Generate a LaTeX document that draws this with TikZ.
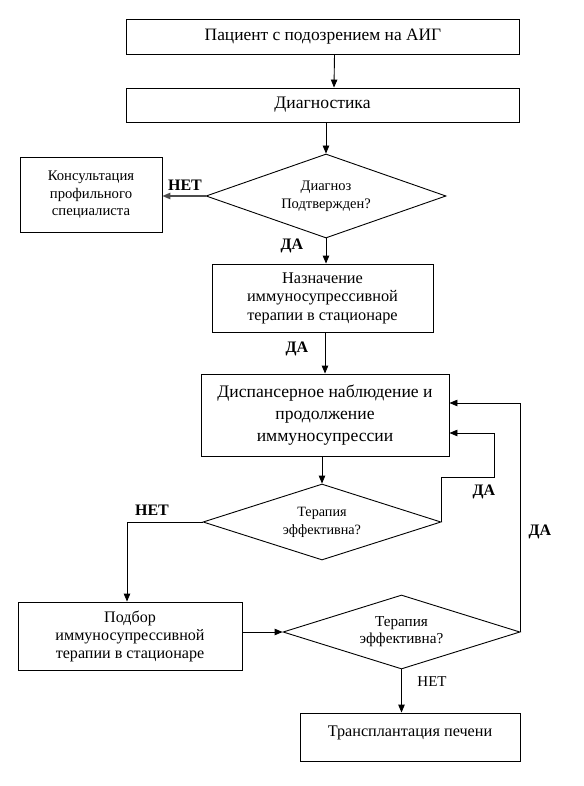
\documentclass[tikz,border=0pt]{standalone}
\usepackage{fontspec}
\setmainfont{Liberation Serif}
\usetikzlibrary{shapes.geometric,arrows.meta}
\begin{document}
\begin{tikzpicture}[x=1pt,y=-1pt,
  every path/.style={line width=0.9pt},
  box/.style={draw, rectangle, inner sep=2pt, align=center, font=\fontsize{16.3}{18.5}\selectfont},
  dia/.style={draw, diamond, inner sep=0pt, align=center, font=\fontsize{14.5}{18}\selectfont},
  arr/.style={-{Triangle[length=8pt,width=6.5pt]}},
  lab/.style={font=\fontsize{16}{18}\selectfont\bfseries, inner sep=0pt},
  labn/.style={font=\fontsize{15}{17}\selectfont, inner sep=0pt}]
\useasboundingbox (0,0) rectangle (583,786);
\fill[white] (0,0) rectangle (583,786);

\node[box, minimum width=393pt, minimum height=35pt, font=\fontsize{17.4}{20}\selectfont] (p) at (323,36.5) {Пациент с подозрением на АИГ};
\node[box, minimum width=393pt, minimum height=34pt, font=\fontsize{17.6}{20}\selectfont] (dg) at (322.5,105) {Диагностика};
\node[dia, aspect=2.86, minimum width=240pt, minimum height=84pt] (d1) at (326,196) {Диагноз\\Подтвержден?};
\node[box, minimum width=142pt, minimum height=75pt, font=\fontsize{14.7}{17.5}\selectfont] (c) at (91,195) {Консультация\\профильного\\специалиста};
\node[box, minimum width=221pt, minimum height=68pt] (b3) at (322.5,298) {Назначение\\иммуносупрессивной\\терапии в стационаре};
\node[box, minimum width=248pt, minimum height=82pt, font=\fontsize{17.6}{22}\selectfont] (b4) at (325,415) {Диспансерное наблюдение и\\продолжение\\иммуносупрессии};
\node[dia, aspect=3.13, minimum width=238pt, minimum height=76pt, font=\fontsize{14.2}{18}\selectfont] (d2) at (322,522) {Терапия\\эффективна?};
\node[box, minimum width=224pt, minimum height=68pt, font=\fontsize{16.1}{18}\selectfont] (b5) at (130,636) {Подбор\\иммуносупрессивной\\терапии в стационаре};
\node[dia, aspect=3.2, minimum width=237pt, minimum height=74pt, font=\fontsize{15.2}{17}\selectfont] (d3) at (401.5,632) {Терапия\\эффективна?};
\node[box, minimum width=220pt, minimum height=48pt, font=\fontsize{16.2}{18}\selectfont] (b6) at (410,737) {Трансплантация печени\\[-6pt]~};

\coordinate (l1) at (494,477);

\draw[arr] ([xshift=11.5pt]p.south) -- ([xshift=11.5pt]dg.north);
\draw[arr] (d1.north |- dg.south) -- (d1.north);
\draw[arr, line width=1.3pt, draw=black!70] (d1.west) -- (d1.west -| c.east);
\draw[arr] (d1.south) -- (d1.south |- b3.north);
\draw[arr] (b4.north |- b3.south) -- (b4.north);
\draw[arr] (b4.south -| d2.north) -- (d2.north);
\draw[arr] (d2.east) |- (l1) |- ([yshift=-18pt]b4.east);
\draw[arr] (d3.east) |- ([yshift=12pt]b4.east);
\draw[arr] (d2.west) -| ([xshift=-3pt]b5.north);
\draw[arr] (b5.east |- d3.west) -- (d3.west);
\draw[arr] (d3.south) -- (d3.south |- b6.north);

\node[lab] (n1) at (185,185) {НЕТ};
\node[lab] (y1) at (292,246) {ДА};
\node[lab] (y2) at (297,349) {ДА};
\node[lab] (y3) at (484,492) {ДА};
\node[lab] (n2) at (152,510) {НЕТ};
\node[lab] (y4) at (540,532) {ДА};
\node[labn] (n3) at (432,682) {НЕТ};
\end{tikzpicture}
\end{document}
